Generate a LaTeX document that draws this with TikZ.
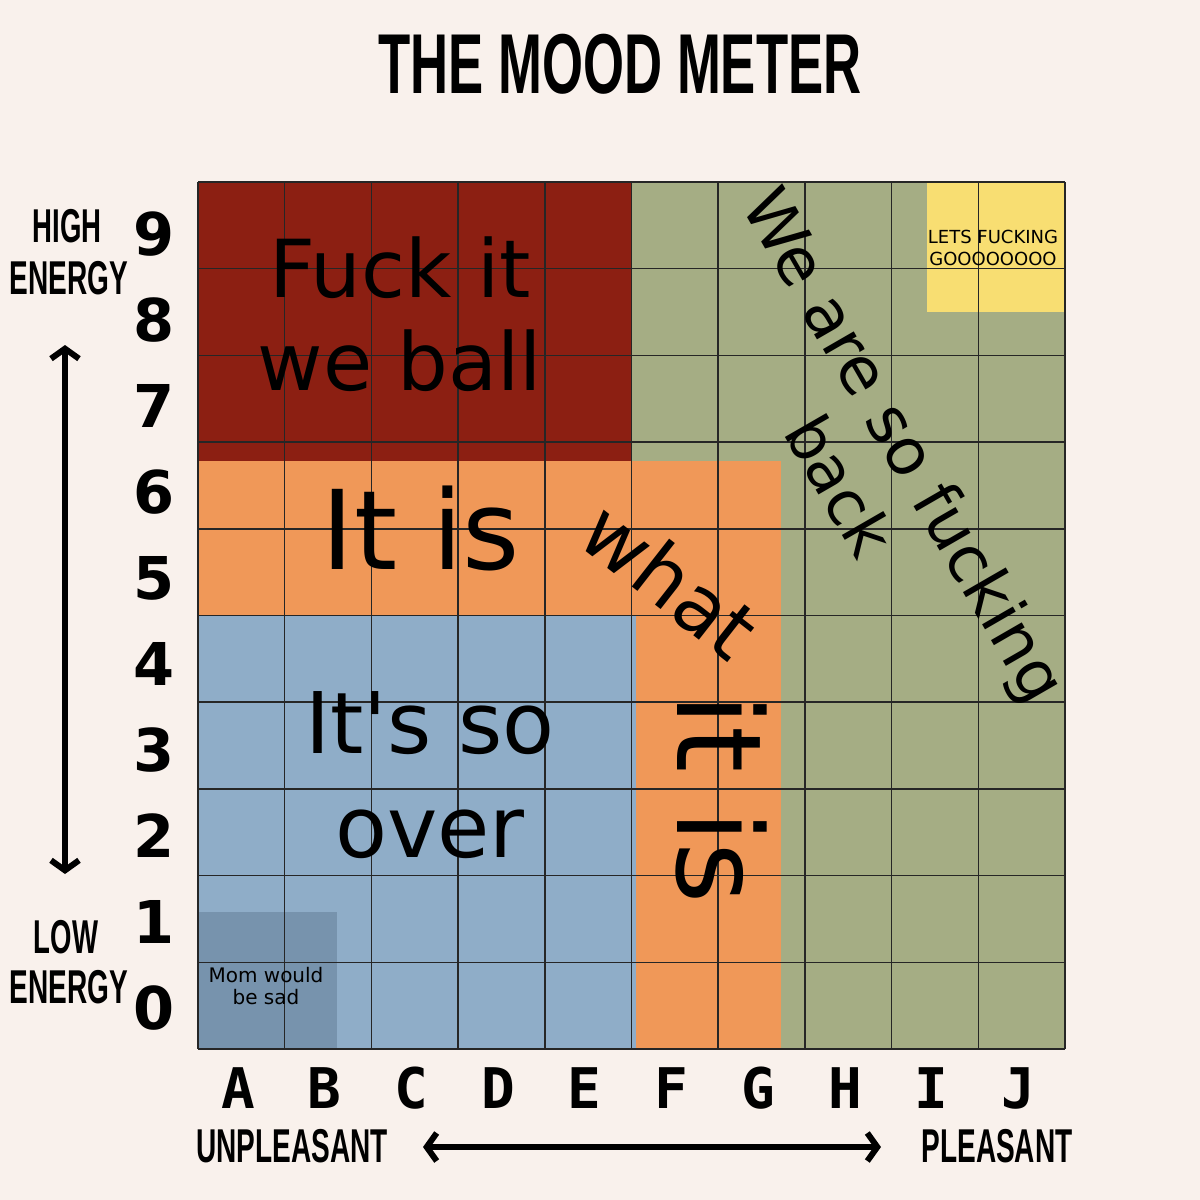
\documentclass[tikz,border=0pt]{standalone}
\usepackage{graphicx}
\usepackage{fontspec}
\setmainfont{DejaVu Sans}
\newfontfamily\monofam{DejaVu Sans Mono}
\newfontfamily\condfam{Liberation Sans}
\usetikzlibrary{arrows.meta}
\definecolor{bgc}{HTML}{F9F1EC}
\definecolor{redc}{HTML}{8C1F12}
\definecolor{orangec}{HTML}{F09858}
\definecolor{greenc}{HTML}{A5AD84}
\definecolor{bluec}{HTML}{8FADC8}
\definecolor{momc}{HTML}{7793AD}
\definecolor{yellowc}{HTML}{F8DE72}
\newcommand\setfsz[1]{\fontsize{#1}{#1}\selectfont}
\begin{document}
\begin{tikzpicture}[x=1pt,y=1pt,
  lbl/.style={inner sep=0pt, anchor=base},
  gridline/.style={draw=black!85, line width=1.5pt},
  bigarrow/.style={line width=6pt,
    {Straight Barb[length=10pt,width=28pt]}-{Straight Barb[length=10pt,width=28pt]}},
  condlbl/.style={lbl, font=\condfam\bfseries\setfsz{47.5}},
  bigtxt/.style={lbl, font=\setfsz{80}},
  numlbl/.style={lbl, font=\bfseries\setfsz{59}},
  letlbl/.style={lbl, font=\monofam\bfseries\setfsz{56}}]
% background
\fill[bgc] (0,0) rectangle (1200,-1200);
% zones
\fill[greenc] (198,-182) rectangle (1065,-1049);
\fill[orangec] (198,-461) rectangle (781,-1049);
\fill[bluec] (198,-615) rectangle (636,-1049);
\fill[redc] (198,-182) rectangle (632,-461);
\fill[yellowc] (927,-182) rectangle (1065,-312);
\fill[momc] (198,-912) rectangle (337,-1049);
% grid
\foreach \i in {0,...,10} {
  \draw[gridline] ({198+86.7*\i},-182) -- ({198+86.7*\i},-1049);
  \draw[gridline] (198,{-182-86.7*\i}) -- (1065,{-182-86.7*\i});
}
% title
\node[lbl, font=\condfam\bfseries\setfsz{85}] (title) at (620,-93) {\scalebox{0.62}[1]{THE MOOD METER}};
% side labels
\node[condlbl] (high) at (67,-242) {\scalebox{0.58}[1]{HIGH}};
\node[condlbl] (highen) at (69,-294) {\scalebox{0.59}[1]{ENERGY}};
\node[condlbl] (low) at (66,-953) {\scalebox{0.58}[1]{LOW}};
\node[condlbl] (lowen) at (69,-1003) {\scalebox{0.59}[1]{ENERGY}};
\node[condlbl] (unpl) at (292,-1162) {\scalebox{0.59}[1]{UNPLEASANT}};
\node[condlbl] (pl) at (997,-1162) {\scalebox{0.59}[1]{PLEASANT}};
% arrows
\coordinate (vtop) at (65,-345);
\coordinate (vbot) at (65,-874);
\draw[bigarrow] (vtop) -- (vbot);
\coordinate (hleft) at (423,-1147);
\coordinate (hright) at (881,-1147);
\draw[bigarrow] (hleft) -- (hright);
% numbers
\foreach \n in {0,...,9} {
  \node[numlbl] (num\n) at (154,{-255-86*(9-\n)}) {\n};
}
% letters
\foreach \l [count=\k from 0] in {A,B,C,D,E,F,G,H,I,J} {
  \node[letlbl] (col\l) at ({238+86.7*\k},-1108) {\l};
}
% zone texts
\node[bigtxt] (ball1) at (400,-297) {Fuck it};
\node[bigtxt] (ball2) at (400,-390) {we ball};
\node[lbl, font=\setfsz{110}] (itis) at (421,-569) {It is};
\node[lbl, font=\setfsz{80}, rotate=-38] (what) at (652,-603) {what};
\node[lbl, font=\setfsz{118}, rotate=-90] (itis2) at (677,-799) {it is};
\node[lbl, font=\setfsz{85}] (over1) at (430,-753) {It\textquotesingle s so};
\node[lbl, font=\setfsz{85}] (over2) at (430,-857) {over};
\node[lbl, font=\setfsz{65}, rotate=-60] (back1) at (885,-456) {We are so fucking};
\node[lbl, font=\setfsz{63}, rotate=-60] (back2) at (820,-497) {back};
\node[lbl, font=\setfsz{18}] (lets1) at (993,-243) {LETS FUCKING};
\node[lbl, font=\setfsz{18}] (lets2) at (993,-265) {GOOOOOOOO};
\node[lbl, font=\setfsz{20}] (mom1) at (266,-982) {Mom would};
\node[lbl, font=\setfsz{20}] (mom2) at (266,-1004) {be sad};
\end{tikzpicture}
\end{document}
